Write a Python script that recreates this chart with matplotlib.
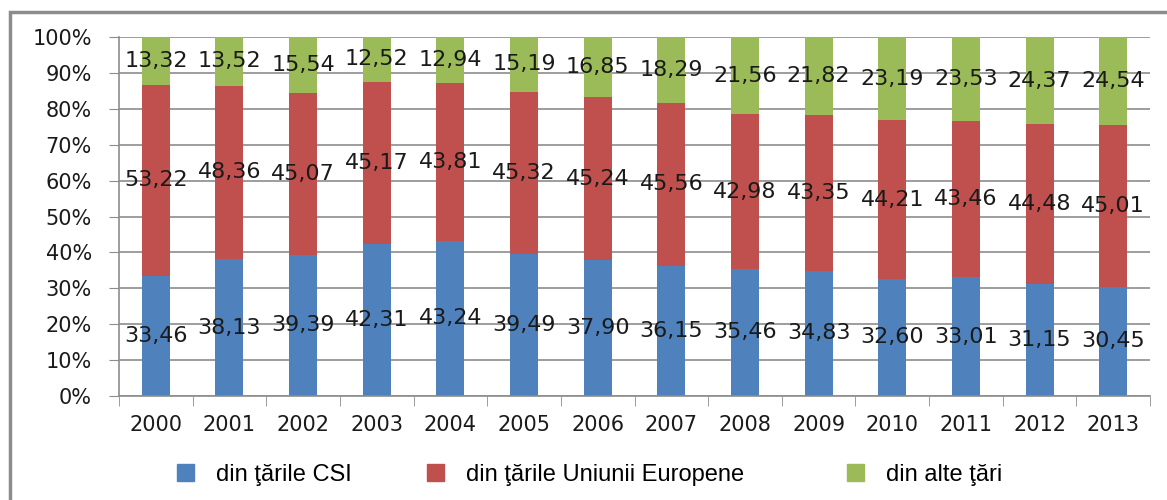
import numpy as np
import matplotlib.pyplot as plt
from matplotlib.patches import Rectangle, Patch

years = ['2000', '2001', '2002', '2003', '2004', '2005', '2006',
         '2007', '2008', '2009', '2010', '2011', '2012', '2013']
csi = [33.46, 38.13, 39.39, 42.31, 43.24, 39.49, 37.90,
       36.15, 35.46, 34.83, 32.60, 33.01, 31.15, 30.45]
ue = [53.22, 48.36, 45.07, 45.17, 43.81, 45.32, 45.24,
      45.56, 42.98, 43.35, 44.21, 43.46, 44.48, 45.01]
alte = [13.32, 13.52, 15.54, 12.52, 12.94, 15.19, 16.85,
        18.29, 21.56, 21.82, 23.19, 23.53, 24.37, 24.54]
series_names = ['din ţările CSI', 'din ţările Uniunii Europene', 'din alte ţări']
colors = ['#4F81BD', '#C0504D', '#9BBB59']

W, H = 1167, 500
fig = plt.figure(figsize=(W / 100, H / 100), dpi=100)
ax = fig.add_axes([119 / W, 1 - 396 / H, (1150 - 119) / W, (396 - 37) / H])

# outer chart frame (runs off the right and bottom edges)
fig.patches.append(Rectangle((10 / W, -0.2), 1.2, 1.2 - 12 / H,
                             transform=fig.transFigure, fill=False,
                             edgecolor='#8c8c8c', linewidth=2.5))

x = np.arange(len(years))
data = np.array([csi, ue, alte])
pct = data / data.sum(axis=0) * 100

bottom = np.zeros(len(years))
for vals, p, c in zip(data, pct, colors):
    ax.bar(x, p, 0.38, bottom=bottom, color=c, zorder=2)
    for xi, v, b, h in zip(x, vals, bottom, p):
        ax.text(xi, b + h / 2, f'{v:.2f}'.replace('.', ','), ha='center',
                va='center', fontsize=16, color='#1a1a1a', zorder=3)
    bottom += p

ax.set_xlim(-0.5, len(years) - 0.5)
ax.set_ylim(0, 100)
ax.set_yticks(np.arange(0, 101, 10))
ax.set_yticklabels([f'{t}%' for t in range(0, 101, 10)], fontsize=15, color='#1a1a1a')
ax.set_xticks(x)
ax.set_xticklabels(years, fontsize=15, color='#1a1a1a')
ax.set_xticks(np.arange(-0.5, len(years)), minor=True)
ax.tick_params(axis='x', which='major', length=0, pad=14)
ax.tick_params(axis='x', which='minor', length=7, color='#8c8c8c')
ax.tick_params(axis='y', length=7.5, color='#8c8c8c', pad=12, direction='out')
ax.yaxis.grid(True, color='#8c8c8c', linewidth=1.2, zorder=0)
ax.set_axisbelow(True)
for s in ['top', 'right']:
    ax.spines[s].set_visible(False)
for s in ['left', 'bottom']:
    ax.spines[s].set_color('#8c8c8c')
    ax.spines[s].set_linewidth(1.2)

# legend entries placed one by one, like the original
legend_x = [177, 427, 847]
for name, c, lx in zip(series_names, colors, legend_x):
    fig.legend([Patch(color=c)], [name], loc='center left',
               bbox_to_anchor=(lx / W, 1 - 475 / H), frameon=False,
               handlelength=0.7, handleheight=0.7, handletextpad=0.95,
               borderpad=0, borderaxespad=0,
               prop={'family': 'Liberation Sans', 'size': 17})

fig.savefig('out.png', dpi=100)
